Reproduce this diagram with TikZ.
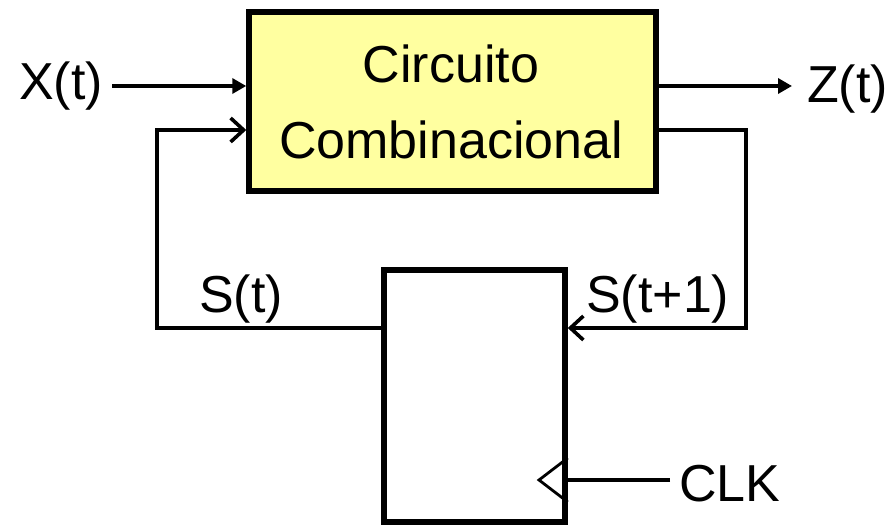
\documentclass[tikz,border=0pt]{standalone}
\usepackage{fontspec}
\setmainfont{Liberation Sans}
\usetikzlibrary{arrows.meta}
\definecolor{combfill}{RGB}{255,255,160}
\begin{document}
\begin{tikzpicture}[x=1pt,y=-1pt,
  lbl/.style={font=\fontsize{52}{60}\selectfont, inner sep=0pt, anchor=base west},
  wire/.style={line width=3.4pt},
  blk/.style={draw, line width=5.5pt, inner sep=0pt},
  ftip/.style={-{Triangle[length=14pt,width=15pt]}},
  btip/.style={-{Straight Barb[length=13pt,width=24pt,line width=3.6pt]}}]
\useasboundingbox (0,0) rectangle (895,526);
% blocks
\node[blk, fill=combfill, minimum width=407pt, minimum height=179pt] (cc) at (452.5,101.5) {};
\node[blk, fill=white, minimum width=181pt, minimum height=252pt] (ff) at (474.5,396) {};
% labels
\node[lbl, anchor=base] (l1) at (451,83) {Circuito};
\node[lbl, anchor=base] (l2) at (451,159) {Combinacional};
\node[lbl] (xt) at (19,100) {X(t)};
\node[lbl] (zt) at (807,103) {Z(t)};
\node[lbl] (st) at (199,313) {S(t)};
\node[lbl] (st1) at (586,313) {S(t+1)};
\node[lbl] (clk) at (679,502) {CLK};
% free ends
\coordinate (xin) at (112,86);
\coordinate (zout) at (792,86);
\coordinate (fl1) at (157,328);
\coordinate (fl2) at (157,130);
\coordinate (fr1) at (746,130);
\coordinate (fr2) at (746,328);
\coordinate (ck) at (670,480);
% connectors
\draw[wire,ftip] (xin) -- (cc.west |- xin);
\draw[wire,ftip] (cc.east |- zout) -- (zout);
\draw[wire,btip] (ff.west |- fl1) -- (fl1) -- (fl2) -- (cc.west |- fl2);
\draw[wire,btip] (cc.east |- fr1) -- (fr1) -- (fr2) -- (ff.east |- fr2);
\draw[wire] (ck) -- (ff.east |- ck);
% clock triangle
\draw[line width=2.8pt, line join=miter] (ff.east |- 0,458) -- (539,480) -- (ff.east |- 0,502);
\end{tikzpicture}
\end{document}
